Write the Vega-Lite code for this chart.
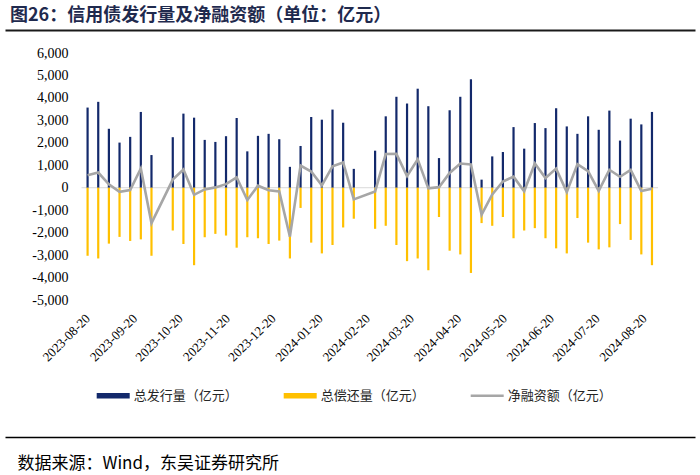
{
  "$schema": "https://vega.github.io/schema/vega-lite/v6.json",
  "width": 690,
  "height": 247,
  "autosize": {"type": "none"},
  "padding": {"left": 5, "top": 53, "right": 5, "bottom": 175},
  "background": "white",
  "config": {
    "view": {"stroke": null},
    "font": "Liberation Serif",
    "axisY": {"labelOverlap": false, "labelBound": false, "labelFlush": false}
  },
  "title": {
    "text": "图26：信用债发行量及净融资额（单位：亿元）",
    "anchor": "start",
    "frame": "group",
    "orient": "top",
    "font": "Noto Sans CJK SC",
    "fontSize": 18,
    "fontWeight": "bold",
    "color": "#1F2A4E",
    "offset": 8,
    "dx": 5,
    "dy": 21,
    "baseline": "bottom"
  },
  "data": {
    "values": [
      {"date": "2023-08-20", "issue": 3570, "repay": -3030, "net": 555},
      {"date": "2023-08-27", "issue": 3825, "repay": -3150, "net": 675},
      {"date": "2023-09-03", "issue": 2625, "repay": -2490, "net": 150},
      {"date": "2023-09-10", "issue": 2010, "repay": -2190, "net": -180},
      {"date": "2023-09-17", "issue": 2265, "repay": -2370, "net": -105},
      {"date": "2023-09-24", "issue": 3375, "repay": -2300, "net": 855},
      {"date": "2023-10-01", "issue": 1455, "repay": -3030, "net": -1575},
      {"date": "2023-10-15", "issue": 2250, "repay": -1905, "net": 360},
      {"date": "2023-10-22", "issue": 3300, "repay": -2505, "net": 810},
      {"date": "2023-10-29", "issue": 3120, "repay": -3450, "net": -315},
      {"date": "2023-11-05", "issue": 2130, "repay": -2205, "net": -75},
      {"date": "2023-11-12", "issue": 2040, "repay": -2055, "net": 15},
      {"date": "2023-11-19", "issue": 2295, "repay": -2130, "net": 160},
      {"date": "2023-11-26", "issue": 3105, "repay": -2670, "net": 460},
      {"date": "2023-12-03", "issue": 1620, "repay": -2205, "net": -550},
      {"date": "2023-12-10", "issue": 2310, "repay": -2250, "net": 90},
      {"date": "2023-12-17", "issue": 2400, "repay": -2505, "net": -115},
      {"date": "2023-12-24", "issue": 2160, "repay": -2355, "net": -170},
      {"date": "2023-12-31", "issue": 930, "repay": -3150, "net": -2180},
      {"date": "2024-01-07", "issue": 1860, "repay": -900, "net": 990},
      {"date": "2024-01-14", "issue": 3150, "repay": -2445, "net": 720},
      {"date": "2024-01-21", "issue": 3030, "repay": -2925, "net": 105},
      {"date": "2024-01-28", "issue": 3480, "repay": -2550, "net": 950},
      {"date": "2024-02-04", "issue": 2895, "repay": -1770, "net": 1125},
      {"date": "2024-02-11", "issue": 840, "repay": -1380, "net": -520},
      {"date": "2024-02-25", "issue": 1650, "repay": -1830, "net": -165},
      {"date": "2024-03-03", "issue": 3180, "repay": -1695, "net": 1500},
      {"date": "2024-03-10", "issue": 4050, "repay": -2550, "net": 1510},
      {"date": "2024-03-17", "issue": 3750, "repay": -3270, "net": 520},
      {"date": "2024-03-24", "issue": 4410, "repay": -3150, "net": 1265},
      {"date": "2024-03-31", "issue": 3630, "repay": -3675, "net": -30},
      {"date": "2024-04-07", "issue": 1320, "repay": -1305, "net": 25},
      {"date": "2024-04-14", "issue": 3450, "repay": -2805, "net": 660},
      {"date": "2024-04-21", "issue": 4050, "repay": -2970, "net": 1080},
      {"date": "2024-04-28", "issue": 4830, "repay": -3795, "net": 1040},
      {"date": "2024-05-05", "issue": 360, "repay": -1575, "net": -1200},
      {"date": "2024-05-12", "issue": 1395, "repay": -1695, "net": -300},
      {"date": "2024-05-19", "issue": 1590, "repay": -1305, "net": 280},
      {"date": "2024-05-26", "issue": 2700, "repay": -2250, "net": 490},
      {"date": "2024-06-02", "issue": 1740, "repay": -1905, "net": -160},
      {"date": "2024-06-09", "issue": 2880, "repay": -1800, "net": 1080},
      {"date": "2024-06-16", "issue": 2655, "repay": -2250, "net": 430},
      {"date": "2024-06-23", "issue": 3540, "repay": -2700, "net": 850},
      {"date": "2024-06-30", "issue": 2730, "repay": -2925, "net": -195},
      {"date": "2024-07-07", "issue": 2400, "repay": -1350, "net": 1050},
      {"date": "2024-07-14", "issue": 3180, "repay": -2445, "net": 740},
      {"date": "2024-07-21", "issue": 2580, "repay": -2745, "net": -140},
      {"date": "2024-07-28", "issue": 3435, "repay": -2655, "net": 800},
      {"date": "2024-08-04", "issue": 2100, "repay": -1620, "net": 490},
      {"date": "2024-08-11", "issue": 3075, "repay": -2325, "net": 790},
      {"date": "2024-08-18", "issue": 2820, "repay": -2970, "net": -150},
      {"date": "2024-08-25", "issue": 3375, "repay": -3450, "net": -50}
    ]
  },
  "layer": [
    {
      "data": {"values": [{}]},
      "mark": {"type": "rule", "color": "#D9D9D9", "strokeWidth": 1},
      "encoding": {
        "y": {"datum": 0, "type": "quantitative", "title": null},
        "x": {"datum": {"year": 2023, "month": 8, "date": 16, "utc": true}, "type": "temporal", "axis": null},
        "x2": {"datum": {"year": 2024, "month": 8, "date": 29, "utc": true}}
      }
    },
    {
      "transform": [{"fold": ["issue", "repay"], "as": ["series", "value"]}],
      "mark": {"type": "bar", "size": 2.2},
      "encoding": {
        "x": {
          "field": "date",
          "type": "temporal",
          "scale": {
            "type": "utc",
            "domain": [
              {"year": 2023, "month": 6, "date": 30, "utc": true},
              {"year": 2024, "month": 9, "date": 19, "utc": true}
            ]
          },
          "axis": {
            "orient": "bottom",
            "offset": 137,
            "domain": true,
            "domainColor": "#000000",
            "domainWidth": 1.5,
            "ticks": false,
            "tickSize": 0,
            "tickCount": 30,
            "grid": false,
            "labelPadding": -121,
            "labelAngle": 315,
            "labelAlign": "right",
            "labelBaseline": "middle",
            "labelFont": "Liberation Serif",
            "labelFontSize": 13,
            "labelColor": "#000000",
            "labelOverlap": false,
            "labelBound": false,
            "labelFlush": false,
            "format": "%Y-%m-%d",
            "values": [
              {"year": 2023, "month": 8, "date": 20, "utc": true},
              {"year": 2023, "month": 9, "date": 20, "utc": true},
              {"year": 2023, "month": 10, "date": 20, "utc": true},
              {"year": 2023, "month": 11, "date": 20, "utc": true},
              {"year": 2023, "month": 12, "date": 20, "utc": true},
              {"year": 2024, "month": 1, "date": 20, "utc": true},
              {"year": 2024, "month": 2, "date": 20, "utc": true},
              {"year": 2024, "month": 3, "date": 20, "utc": true},
              {"year": 2024, "month": 4, "date": 20, "utc": true},
              {"year": 2024, "month": 5, "date": 20, "utc": true},
              {"year": 2024, "month": 6, "date": 20, "utc": true},
              {"year": 2024, "month": 7, "date": 20, "utc": true},
              {"year": 2024, "month": 8, "date": 20, "utc": true}
            ],
            "title": "数据来源：Wind，东吴证券研究所",
            "titleX": 12,
            "titleY": 26,
            "titleAlign": "left",
            "titleAnchor": "start",
            "titleBaseline": "middle",
            "titleAngle": 0,
            "titleFont": "Noto Sans CJK SC",
            "titleFontSize": 17,
            "titleFontWeight": "normal",
            "titleColor": "#000000"
          }
        },
        "y": {
          "field": "value",
          "type": "quantitative",
          "stack": null,
          "scale": {"domain": [-5000, 6000], "nice": false},
          "axis": {
            "offset": -71,
            "domain": false,
            "ticks": false,
            "grid": false,
            "tickCount": 30,
            "values": [-5000, -4000, -3000, -2000, -1000, 0, 1000, 2000, 3000, 4000, 5000, 6000],
            "labelPadding": 8,
            "labelFont": "Liberation Serif",
            "labelFontSize": 14,
            "labelColor": "#000000",
            "labelOverlap": false,
            "labelBound": false,
            "labelFlush": false,
            "labelExpr": "replace(format(datum.value, ','), '−', '-')",
            "title": null
          }
        },
        "color": {
          "field": "series",
          "type": "nominal",
          "scale": {"domain": ["issue", "repay", "net"], "range": ["#13296B", "#FFC000", "#A6A6A6"]},
          "legend": {
            "orient": "none",
            "legendX": 91.7,
            "legendY": 326,
            "direction": "horizontal",
            "title": null,
            "symbolSize": 1089,
            "labelFont": "Noto Sans CJK SC",
            "labelFontSize": 13,
            "labelColor": "#262626",
            "labelOffset": 4,
            "columnPadding": 45,
            "padding": 0,
            "labelExpr": "datum.label == 'issue' ? '总发行量（亿元）' : datum.label == 'repay' ? '总偿还量（亿元）' : '净融资额（亿元）'",
            "encode": {
              "symbols": {
                "update": {
                  "shape": {"signal": "datum.value == 'net' ? 'M-1,-0.075H1V0.075H-1Z' : 'M-1,-0.17H1V0.17H-1Z'"},
                  "fill": {"signal": "scale('color', datum.value)"},
                  "stroke": {"value": "transparent"},
                  "strokeWidth": {"value": 0},
                  "opacity": {"value": 1}
                }
              }
            }
          }
        }
      }
    },
    {
      "transform": [{"fold": ["net"], "as": ["series", "value"]}],
      "mark": {"type": "line", "strokeWidth": 2.6},
      "encoding": {
        "x": {
          "field": "date",
          "type": "temporal",
          "axis": {
            "orient": "top",
            "offset": 23,
            "domain": true,
            "domainColor": "#1A1A1A",
            "domainWidth": 2,
            "ticks": false,
            "labels": false,
            "grid": false,
            "title": null
          }
        },
        "y": {"field": "value", "type": "quantitative", "title": null},
        "color": {"field": "series", "type": "nominal"}
      }
    }
  ],
  "resolve": {"axis": {"x": "independent"}}
}
